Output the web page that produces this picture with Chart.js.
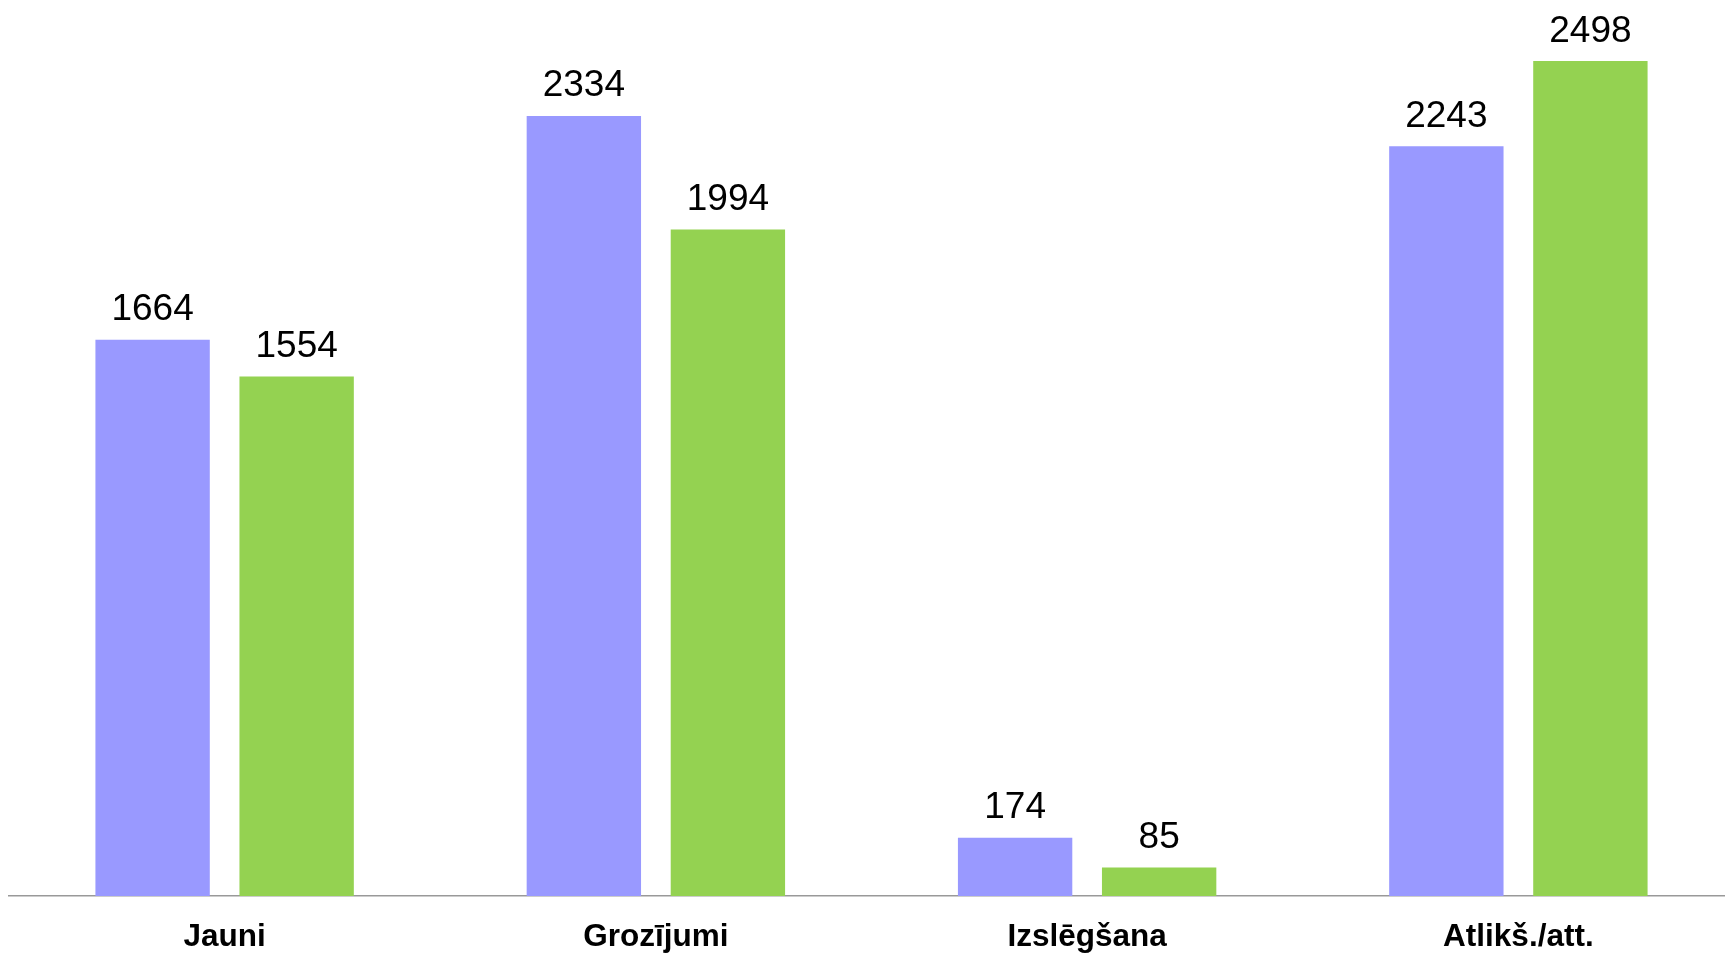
<!DOCTYPE html>
<html>
<head>
<meta charset="utf-8">
<style>
html,body{margin:0;padding:0;overflow:hidden;background:#fff;width:1725px;height:953px;}
canvas{display:block;}
</style>
<script src="https://cdn.jsdelivr.net/npm/chart.js@4/dist/chart.umd.min.js"></script>
</head>
<body>
<canvas id="c" width="1734" height="953"></canvas>
<script>
const categories = ["Jauni", "Grozījumi", "Izslēgšana", "Atlikš./att."];
const seriesA = [1664, 2334, 174, 2243];
const seriesB = [1554, 1994, 85, 2498];
const yMax = 2600;

const valueLabels = {
  id: 'valueLabels',
  afterDatasetsDraw(chart) {
    const ctx = chart.ctx;
    ctx.save();
    ctx.font = '37px "Liberation Sans", Arial, sans-serif';
    ctx.fillStyle = '#000';
    ctx.textAlign = 'center';
    ctx.textBaseline = 'alphabetic';
    chart.data.datasets.forEach((ds, i) => {
      chart.getDatasetMeta(i).data.forEach((bar, j) => {
        ctx.fillText(String(ds.data[j]), bar.x, bar.y - 19.5);
      });
    });
    ctx.restore();
  }
};

new Chart(document.getElementById('c'), {
  type: 'bar',
  data: {
    labels: categories,
    datasets: [
      { label: 'A', data: seriesA, backgroundColor: '#9999ff', borderWidth: 0 },
      { label: 'B', data: seriesB, backgroundColor: '#94d251', borderWidth: 0 }
    ]
  },
  options: {
    responsive: false,
    animation: false,
    categoryPercentage: 0.668,
    barPercentage: 0.794,
    layout: { padding: { left: 9, right: 0, top: 27, bottom: 0 } },
    plugins: { legend: { display: false }, tooltip: { enabled: false } },
    scales: {
      x: {
        grid: { display: false, drawTicks: false },
        border: { display: true, color: '#999999', width: 1.5 },
        afterFit(scale) { scale.height = 57; },
        ticks: {
          padding: 22,
          color: '#000',
          font: { family: '"Liberation Sans", Arial, sans-serif', size: 31.5, weight: 'bold' }
        }
      },
      y: {
        display: false,
        min: 0,
        max: yMax
      }
    }
  },
  plugins: [valueLabels]
});
</script>
</body>
</html>
